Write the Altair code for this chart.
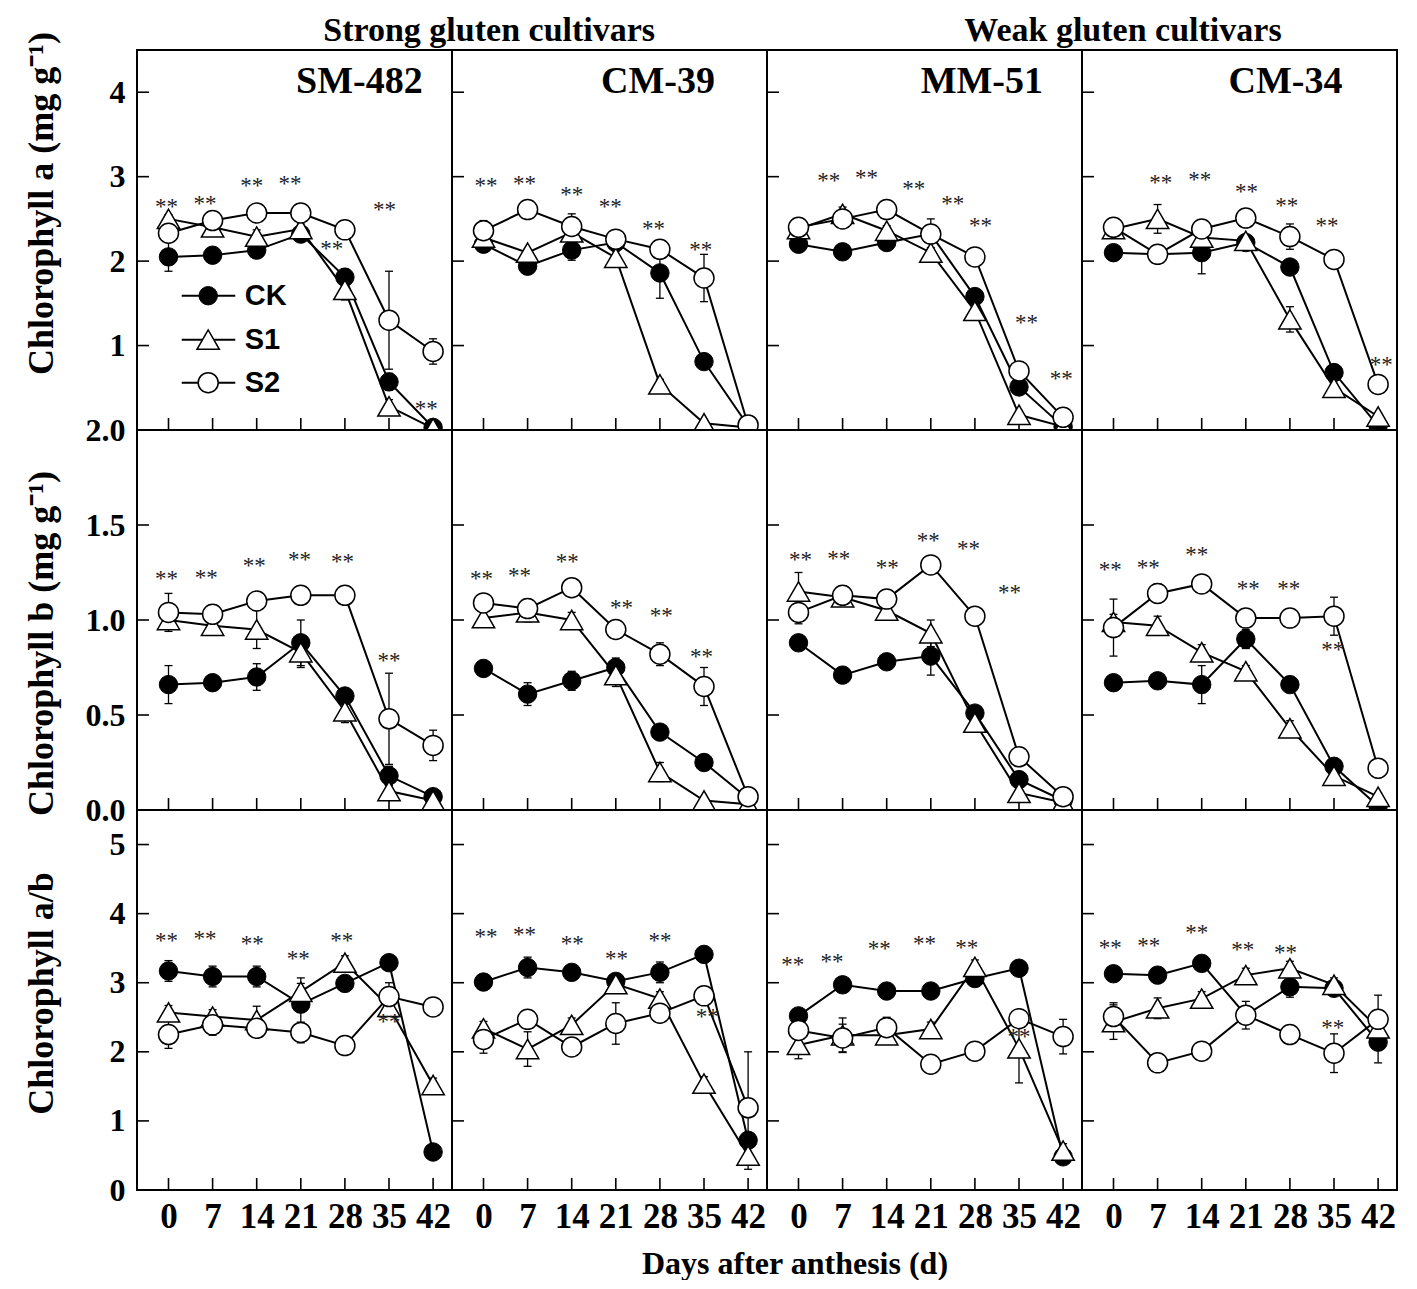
import altair as alt
import pandas as pd

# ---------------- data ----------------
days = [0, 7, 14, 21, 28, 35, 42]
series_names = ["CK", "S1", "S2"]
cultivars = ["SM-482", "CM-39", "MM-51", "CM-34"]
group_titles = ["Strong gluten cultivars", "Weak gluten cultivars"]
y_titles = ["Chlorophyll a (mg g\u207b\u00b9)", "Chlorophyll b (mg g\u207b\u00b9)", "Chlorophyll a/b"]
x_title = "Days after anthesis (d)"
y_label_values = [[1, 2, 3, 4], [0.0, 0.5, 1.0, 1.5, 2.0], [0, 1, 2, 3, 4, 5]]
y_inner_ticks = [[1, 2, 3, 4], [0.5, 1.0, 1.5], [1, 2, 3, 4, 5]]
y_domains = [[0, 4.5], [0, 2.0], [0, 5.5]]

# annotation anchors (day, value) for the cultivar names, group headers and legend
name_day = [30.3, 27.7, 29.1, 27.3]
name_val = 4.12
header_day = [50.9, 51.5]
header_val = 4.607
legend_line_day = [2.1, 10.6]
legend_marker_day = 6.3
legend_text_day = 12.1
legend_vals = [1.59, 1.07, 0.56]

# Chlorophyll a
a_sm482_ck = [2.05, 2.07, 2.13, 2.32, 1.81, 0.57, 0.03]
a_sm482_s1 = [2.50, 2.40, 2.29, 2.38, 1.66, 0.28, 0.02]
a_sm482_s2 = [2.33, 2.48, 2.57, 2.57, 2.37, 1.30, 0.93]
a_cm39_ck = [2.20, 1.94, 2.13, 2.22, 1.86, 0.81, 0.05]
a_cm39_s1 = [2.28, 2.10, 2.34, 2.04, 0.54, 0.08, 0.03]
a_cm39_s2 = [2.36, 2.61, 2.41, 2.26, 2.14, 1.80, 0.06]
a_mm51_ck = [2.20, 2.11, 2.22, 2.32, 1.58, 0.51, 0.04]
a_mm51_s1 = [2.38, 2.56, 2.36, 2.10, 1.41, 0.18, 0.04]
a_mm51_s2 = [2.40, 2.50, 2.61, 2.32, 2.05, 0.70, 0.15]
a_cm34_ck = [2.10, 2.08, 2.10, 2.22, 1.93, 0.68, 0.05]
a_cm34_s1 = [2.38, 2.50, 2.28, 2.24, 1.31, 0.50, 0.16]
a_cm34_s2 = [2.40, 2.08, 2.38, 2.51, 2.29, 2.02, 0.54]

a_sm482_ck_sd = [0.17, 0.05, 0.06, 0.08, 0.10, 0.10, 0.02]
a_sm482_s1_sd = [0.05, 0.05, 0.08, 0.06, 0.12, 0.08, 0.02]
a_sm482_s2_sd = [0.10, 0.08, 0.06, 0.06, 0.05, 0.58, 0.15]
a_cm39_ck_sd = [0.06, 0.08, 0.12, 0.05, 0.30, 0.06, 0.02]
a_cm39_s1_sd = [0.05, 0.04, 0.10, 0.08, 0.06, 0.03, 0.02]
a_cm39_s2_sd = [0.12, 0.08, 0.15, 0.08, 0.10, 0.28, 0.02]
a_mm51_ck_sd = [0.05, 0.04, 0.05, 0.08, 0.06, 0.08, 0.02]
a_mm51_s1_sd = [0.05, 0.08, 0.06, 0.06, 0.05, 0.05, 0.02]
a_mm51_s2_sd = [0.06, 0.10, 0.08, 0.18, 0.05, 0.10, 0.04]
a_cm34_ck_sd = [0.05, 0.04, 0.25, 0.05, 0.08, 0.05, 0.02]
a_cm34_s1_sd = [0.05, 0.17, 0.08, 0.05, 0.15, 0.05, 0.04]
a_cm34_s2_sd = [0.06, 0.06, 0.08, 0.08, 0.15, 0.04, 0.08]

a_sm482_star_day = [-0.3, 5.8, 13.2, 19.3, 25.9, 34.3, 40.9]
a_sm482_star_val = [2.70, 2.73, 2.95, 2.97, 2.20, 2.67, 0.31]
a_cm39_star_day = [0.4, 6.5, 14.0, 20.1, 27.0, 34.5]
a_cm39_star_val = [2.95, 2.97, 2.84, 2.70, 2.44, 2.19]
a_mm51_star_day = [4.8, 10.8, 18.3, 24.5, 28.9, 36.2, 41.7]
a_mm51_star_val = [3.01, 3.04, 2.91, 2.73, 2.48, 1.33, 0.66]
a_cm34_star_day = [7.5, 13.7, 21.1, 27.5, 33.9, 42.5]
a_cm34_star_val = [2.99, 3.02, 2.88, 2.71, 2.48, 0.83]

# Chlorophyll b
b_sm482_ck = [0.66, 0.67, 0.70, 0.88, 0.60, 0.18, 0.07]
b_sm482_s1 = [1.00, 0.97, 0.95, 0.83, 0.52, 0.10, 0.05]
b_sm482_s2 = [1.04, 1.03, 1.10, 1.13, 1.13, 0.48, 0.34]
b_cm39_ck = [0.745, 0.61, 0.68, 0.75, 0.41, 0.25, 0.06]
b_cm39_s1 = [1.01, 1.04, 1.00, 0.71, 0.20, 0.05, 0.03]
b_cm39_s2 = [1.09, 1.06, 1.17, 0.95, 0.82, 0.65, 0.07]
b_mm51_ck = [0.88, 0.71, 0.78, 0.81, 0.51, 0.16, 0.05]
b_mm51_s1 = [1.15, 1.12, 1.05, 0.93, 0.46, 0.09, 0.04]
b_mm51_s2 = [1.04, 1.13, 1.11, 1.29, 1.02, 0.28, 0.07]
b_cm34_ck = [0.67, 0.68, 0.66, 0.90, 0.66, 0.23, 0.02]
b_cm34_s1 = [0.99, 0.97, 0.83, 0.73, 0.43, 0.18, 0.07]
b_cm34_s2 = [0.96, 1.14, 1.19, 1.01, 1.01, 1.02, 0.22]

b_sm482_ck_sd = [0.10, 0.03, 0.07, 0.12, 0.04, 0.05, 0.02]
b_sm482_s1_sd = [0.04, 0.04, 0.10, 0.08, 0.06, 0.03, 0.02]
b_sm482_s2_sd = [0.10, 0.05, 0.03, 0.03, 0.04, 0.24, 0.08]
b_cm39_ck_sd = [0.03, 0.06, 0.05, 0.05, 0.04, 0.03, 0.02]
b_cm39_s1_sd = [0.03, 0.05, 0.04, 0.06, 0.05, 0.02, 0.01]
b_cm39_s2_sd = [0.04, 0.05, 0.04, 0.04, 0.06, 0.10, 0.04]
b_mm51_ck_sd = [0.03, 0.04, 0.03, 0.10, 0.03, 0.04, 0.02]
b_mm51_s1_sd = [0.10, 0.04, 0.04, 0.07, 0.03, 0.03, 0.01]
b_mm51_s2_sd = [0.06, 0.05, 0.04, 0.02, 0.03, 0.04, 0.03]
b_cm34_ck_sd = [0.03, 0.03, 0.10, 0.05, 0.04, 0.04, 0.01]
b_cm34_s1_sd = [0.04, 0.05, 0.04, 0.03, 0.04, 0.03, 0.02]
b_cm34_s2_sd = [0.15, 0.05, 0.03, 0.04, 0.03, 0.10, 0.05]

b_sm482_star_day = [-0.3, 6.0, 13.6, 20.8, 27.6, 35.0]
b_sm482_star_val = [1.24, 1.25, 1.31, 1.34, 1.33, 0.81]
b_cm39_star_day = [-0.3, 5.7, 13.3, 21.9, 28.2, 34.6]
b_cm39_star_val = [1.24, 1.26, 1.33, 1.09, 1.05, 0.83]
b_mm51_star_day = [0.3, 6.4, 14.1, 20.6, 27.0, 33.5]
b_mm51_star_val = [1.34, 1.35, 1.30, 1.44, 1.40, 1.17]
b_cm34_star_day = [-0.5, 5.5, 13.2, 21.4, 27.8, 34.8]
b_cm34_star_val = [1.29, 1.30, 1.37, 1.19, 1.19, 0.87]

# Chlorophyll a/b
r_sm482_ck = [3.17, 3.09, 3.09, 2.69, 2.99, 3.29, 0.55]
r_sm482_s1 = [2.57, 2.51, 2.46, 2.87, 3.29, 2.65, 1.52]
r_sm482_s2 = [2.25, 2.39, 2.34, 2.28, 2.09, 2.80, 2.65]
r_cm39_ck = [3.01, 3.22, 3.15, 3.02, 3.15, 3.41, 0.72]
r_cm39_s1 = [2.34, 2.04, 2.39, 2.98, 2.77, 1.54, 0.50]
r_cm39_s2 = [2.18, 2.47, 2.07, 2.41, 2.56, 2.81, 1.19]
r_mm51_ck = [2.52, 2.97, 2.88, 2.88, 3.06, 3.21, 0.48]
r_mm51_s1 = [2.10, 2.24, 2.24, 2.33, 3.23, 2.05, 0.57]
r_mm51_s2 = [2.31, 2.20, 2.35, 1.82, 2.01, 2.48, 2.22]
r_cm34_ck = [3.13, 3.11, 3.28, 2.53, 2.94, 2.92, 2.14]
r_cm34_s1 = [2.43, 2.63, 2.77, 3.11, 3.21, 2.97, 2.34]
r_cm34_s2 = [2.51, 1.84, 2.01, 2.53, 2.25, 1.98, 2.47]

r_sm482_ck_sd = [0.15, 0.15, 0.15, 0.30, 0.10, 0.08, 0.05]
r_sm482_s1_sd = [0.10, 0.10, 0.20, 0.20, 0.10, 0.10, 0.10]
r_sm482_s2_sd = [0.20, 0.15, 0.10, 0.15, 0.08, 0.20, 0.10]
r_cm39_ck_sd = [0.08, 0.15, 0.08, 0.08, 0.15, 0.08, 0.10]
r_cm39_s1_sd = [0.10, 0.25, 0.10, 0.10, 0.10, 0.10, 0.20]
r_cm39_s2_sd = [0.20, 0.10, 0.10, 0.30, 0.10, 0.10, 0.81]
r_mm51_ck_sd = [0.08, 0.10, 0.08, 0.08, 0.10, 0.10, 0.05]
r_mm51_s1_sd = [0.20, 0.25, 0.10, 0.10, 0.10, 0.50, 0.10]
r_mm51_s2_sd = [0.10, 0.20, 0.15, 0.10, 0.10, 0.10, 0.25]
r_cm34_ck_sd = [0.08, 0.08, 0.08, 0.10, 0.15, 0.08, 0.30]
r_cm34_s1_sd = [0.25, 0.15, 0.10, 0.10, 0.10, 0.10, 0.10]
r_cm34_s2_sd = [0.20, 0.08, 0.10, 0.20, 0.10, 0.28, 0.35]

r_sm482_star_day = [-0.3, 5.8, 13.3, 20.6, 27.5, 35.0]
r_sm482_star_val = [3.67, 3.70, 3.63, 3.41, 3.67, 2.51]
r_cm39_star_day = [0.4, 6.5, 14.1, 21.1, 28.0, 35.5]
r_cm39_star_val = [3.73, 3.76, 3.63, 3.42, 3.67, 2.57]
r_mm51_star_day = [-0.9, 5.3, 12.8, 20.0, 26.7, 35.0]
r_mm51_star_val = [3.33, 3.37, 3.56, 3.63, 3.58, 2.28]
r_cm34_star_day = [-0.5, 5.6, 13.2, 20.5, 27.3, 34.8]
r_cm34_star_val = [3.57, 3.60, 3.79, 3.54, 3.50, 2.41]

VAL = [
    [[a_sm482_ck, a_sm482_s1, a_sm482_s2], [a_cm39_ck, a_cm39_s1, a_cm39_s2],
     [a_mm51_ck, a_mm51_s1, a_mm51_s2], [a_cm34_ck, a_cm34_s1, a_cm34_s2]],
    [[b_sm482_ck, b_sm482_s1, b_sm482_s2], [b_cm39_ck, b_cm39_s1, b_cm39_s2],
     [b_mm51_ck, b_mm51_s1, b_mm51_s2], [b_cm34_ck, b_cm34_s1, b_cm34_s2]],
    [[r_sm482_ck, r_sm482_s1, r_sm482_s2], [r_cm39_ck, r_cm39_s1, r_cm39_s2],
     [r_mm51_ck, r_mm51_s1, r_mm51_s2], [r_cm34_ck, r_cm34_s1, r_cm34_s2]],
]
SD = [
    [[a_sm482_ck_sd, a_sm482_s1_sd, a_sm482_s2_sd], [a_cm39_ck_sd, a_cm39_s1_sd, a_cm39_s2_sd],
     [a_mm51_ck_sd, a_mm51_s1_sd, a_mm51_s2_sd], [a_cm34_ck_sd, a_cm34_s1_sd, a_cm34_s2_sd]],
    [[b_sm482_ck_sd, b_sm482_s1_sd, b_sm482_s2_sd], [b_cm39_ck_sd, b_cm39_s1_sd, b_cm39_s2_sd],
     [b_mm51_ck_sd, b_mm51_s1_sd, b_mm51_s2_sd], [b_cm34_ck_sd, b_cm34_s1_sd, b_cm34_s2_sd]],
    [[r_sm482_ck_sd, r_sm482_s1_sd, r_sm482_s2_sd], [r_cm39_ck_sd, r_cm39_s1_sd, r_cm39_s2_sd],
     [r_mm51_ck_sd, r_mm51_s1_sd, r_mm51_s2_sd], [r_cm34_ck_sd, r_cm34_s1_sd, r_cm34_s2_sd]],
]
STARS = [
    [(a_sm482_star_day, a_sm482_star_val), (a_cm39_star_day, a_cm39_star_val),
     (a_mm51_star_day, a_mm51_star_val), (a_cm34_star_day, a_cm34_star_val)],
    [(b_sm482_star_day, b_sm482_star_val), (b_cm39_star_day, b_cm39_star_val),
     (b_mm51_star_day, b_mm51_star_val), (b_cm34_star_day, b_cm34_star_val)],
    [(r_sm482_star_day, r_sm482_star_val), (r_cm39_star_day, r_cm39_star_val),
     (r_mm51_star_day, r_mm51_star_val), (r_cm34_star_day, r_cm34_star_val)],
]

# ---------------- style ----------------
FONT = "Liberation Serif"
W, H = 315, 380
XDOM = [-5, 45]
TITLE_Y = [153, 213, 183]
MARKERS = {
    "CK": dict(shape="circle", filled=True, fill="black", stroke="black", strokeWidth=1, size=340),
    "S1": dict(shape="triangle-up", filled=True, fill="white", stroke="black", strokeWidth=1.5, size=500),
    "S2": dict(shape="circle", filled=True, fill="white", stroke="black", strokeWidth=1.5, size=400),
}


def panel(r, c):
    recs = []
    for si, s in enumerate(series_names):
        for d, v, e in zip(days, VAL[r][c][si], SD[r][c][si]):
            recs.append({"day": d, "value": v, "lo": max(v - e, 0.0), "hi": v + e, "series": s})
    df = pd.DataFrame(recs)
    caps = pd.concat([
        df[["day", "lo"]].rename(columns={"lo": "cap"}),
        df[["day", "hi"]].rename(columns={"hi": "cap"}),
    ])

    xs = alt.Scale(domain=XDOM, nice=False, zero=False)
    ys = alt.Scale(domain=y_domains[r], nice=False, zero=False)
    if r == 2:
        xaxis = alt.Axis(values=days, labelFont=FONT, labelFontWeight="bold", labelFontSize=35,
                         labelColor="black", labelPadding=9, ticks=False, domain=False,
                         grid=False, title=None, labelOverlap=False, labelFlush=False)
    else:
        xaxis = None
    if c == 0:
        yaxis = alt.Axis(values=y_label_values[r], format=(".1f" if r == 1 else "d"),
                         labelFont=FONT, labelFontWeight="bold", labelFontSize=32,
                         labelColor="black", labelPadding=12, ticks=False, domain=False,
                         grid=False, labelOverlap=False, labelFlush=False,
                         title=y_titles[r], titleFont=FONT, titleFontSize=36,
                         titleFontWeight="bold", titleColor="black", titleAngle=270,
                         titleX=-85, titleY=TITLE_Y[r], titleBaseline="alphabetic",
                         titleAlign="center")
    else:
        yaxis = None

    def X(f="day"):
        return alt.X(f"{f}:Q", scale=xs, axis=xaxis)

    def Y(f):
        return alt.Y(f"{f}:Q", scale=ys, axis=yaxis)

    layers = []
    layers.append(alt.Chart(pd.DataFrame({"day": days})).mark_rule(color="black", strokeWidth=1.6)
                  .encode(x=X(), y=alt.value(H), y2=alt.value(H - 12)))
    layers.append(alt.Chart(pd.DataFrame({"value": y_inner_ticks[r]})).mark_rule(color="black", strokeWidth=1.6)
                  .encode(y=Y("value"), x=alt.value(0), x2=alt.value(12)))
    layers.append(alt.Chart(df).mark_rule(color="black", strokeWidth=1.3, clip=True)
                  .encode(x=X(), y=Y("lo"), y2="hi:Q"))
    layers.append(alt.Chart(caps).mark_tick(color="black", orient="horizontal", size=8,
                                            thickness=1.3, opacity=1, clip=True)
                  .encode(x=X(), y=Y("cap")))
    layers.append(alt.Chart(df).mark_line(color="black", strokeWidth=2, clip=True)
                  .encode(x=X(), y=Y("value"), detail="series:N"))
    for s in series_names:
        layers.append(alt.Chart(df[df.series == s]).mark_point(opacity=1, clip=True, **MARKERS[s])
                      .encode(x=X(), y=Y("value")))
    sd_, sv_ = STARS[r][c]
    layers.append(alt.Chart(pd.DataFrame({"day": sd_, "value": sv_})).mark_text(
        text="**", font=FONT, fontSize=23, color="#222222", baseline="middle", dy=5)
        .encode(x=X(), y=Y("value")))
    if r == 0:
        layers.append(alt.Chart(pd.DataFrame({"day": [name_day[c]], "value": [name_val], "name": [cultivars[c]]}))
                      .mark_text(font=FONT, fontSize=38, fontWeight="bold", color="black", baseline="middle")
                      .encode(x=X(), y=Y("value"), text="name:N"))
    if r == 0 and c in (0, 2):
        layers.append(alt.Chart(pd.DataFrame({"day": [header_day[c // 2]], "value": [header_val],
                                              "name": [group_titles[c // 2]]}))
                      .mark_text(font=FONT, fontSize=34, fontWeight="bold", color="black",
                                 baseline="alphabetic", align="center")
                      .encode(x=X(), y=Y("value"), text="name:N"))
    if r == 0 and c == 0:
        leg_df = pd.DataFrame({"series": series_names, "value": legend_vals,
                               "d0": [legend_line_day[0]] * 3, "d1": [legend_line_day[1]] * 3,
                               "dm": [legend_marker_day] * 3, "dt": [legend_text_day] * 3})
        layers.append(alt.Chart(leg_df).mark_rule(color="black", strokeWidth=2)
                      .encode(x=X("d0"), x2="d1:Q", y=Y("value")))
        for s in series_names:
            layers.append(alt.Chart(leg_df[leg_df.series == s]).mark_point(opacity=1, **MARKERS[s])
                          .encode(x=X("dm"), y=Y("value")))
        layers.append(alt.Chart(leg_df).mark_text(font="Liberation Sans", fontSize=29, fontWeight="bold",
                                                  color="black", align="left", baseline="middle")
                      .encode(x=X("dt"), y=Y("value"), text="series:N"))
    return alt.layer(*layers).properties(width=W, height=H)


panels = [panel(r, c) for r in range(3) for c in range(4)]

chart = alt.concat(
    *panels, columns=4, spacing=0, bounds="flush",
    title=alt.TitleParams(x_title, orient="bottom", anchor="middle", font=FONT, fontSize=32,
                          fontWeight="bold", color="black", offset=14, dx=85),
).properties(
    padding={"left": 13, "top": 4, "right": 5, "bottom": 0}
).configure_view(stroke="black", strokeWidth=2)

chart.save("out.html", embed_options={"renderer": "svg", "actions": False})
